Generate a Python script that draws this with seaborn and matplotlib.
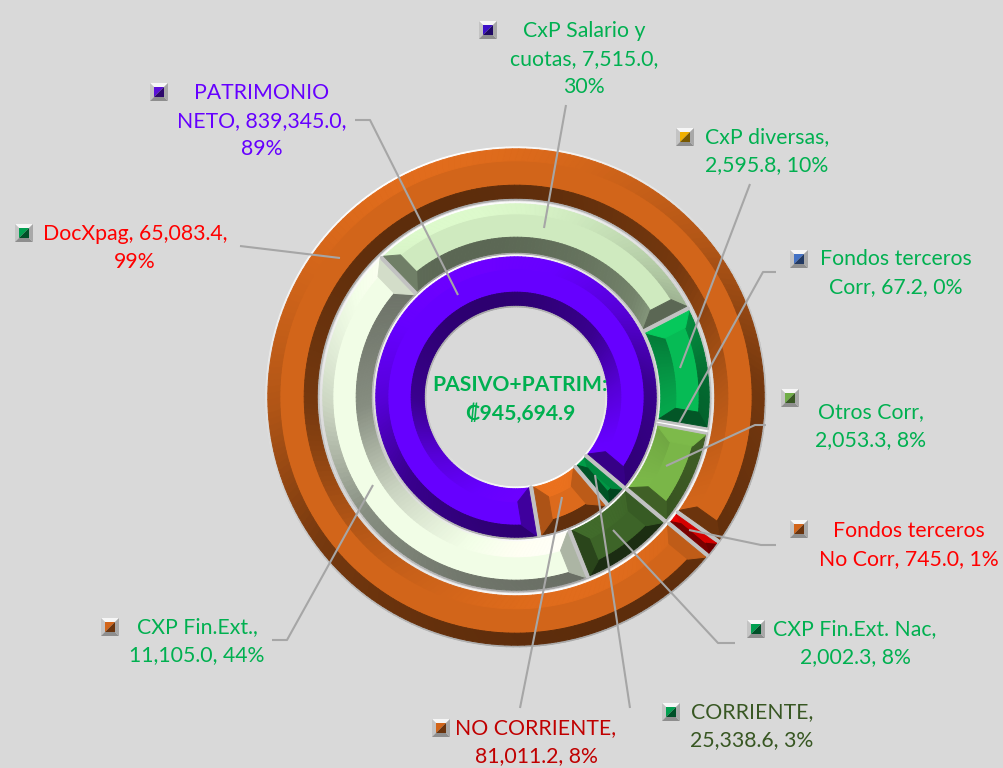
import numpy as np
import matplotlib
matplotlib.use("Agg")
import matplotlib.pyplot as plt
from matplotlib.collections import PolyCollection
import seaborn as sns

# ---------- data ----------
inner_names = ["CORRIENTE", "NO CORRIENTE", "PATRIMONIO NETO"]
inner_values = [25338.6, 81011.2, 839345.0]
inner_colors = ["#009645", "#dc6a1c", "#6600ff"]

middle_names = ["CxP Salario y cuotas", "CxP diversas", "Fondos terceros Corr",
                "Otros Corr", "CXP Fin.Ext. Nac", "CXP Fin.Ext."]
middle_values = [7515.0, 2595.8, 67.2, 2053.3, 2002.3, 11105.0]
middle_colors = ["#cfeabf", "#06bb55", "#ffffff", "#7ab648", "#3d6428", "#f1fde6"]

outer_names = ["Fondos terceros No Corr", "DocXpag"]
outer_values = [745.0, 65083.4]
outer_colors = ["#e60000", "#d2651a"]

center_text = "PASIVO+PATRIM:\n₡945,694.9"
label_texts = ["CxP Salario y\ncuotas, 7,515.0,\n30%",
               "PATRIMONIO\nNETO, 839,345.0,\n89%",
               "CxP diversas,\n2,595.8, 10%",
               "Fondos terceros\nCorr, 67.2, 0%",
               "Otros Corr,\n2,053.3, 8%",
               "DocXpag, 65,083.4,\n99%",
               "Fondos terceros\nNo Corr, 745.0, 1%",
               "CXP Fin.Ext. Nac,\n2,002.3, 8%",
               "CORRIENTE,\n25,338.6, 3%",
               "NO CORRIENTE,\n81,011.2, 8%",
               "CXP Fin.Ext.,\n11,105.0, 44%"]
label_colors = ["#00b050", "#6600ff", "#00b050", "#00b050", "#00b050", "#ff0000",
                "#ff0000", "#00b050", "#385723", "#c00000", "#00b050"]

# ---------- layout (pixels of the reference, y downward) ----------
W, H = 1004, 768
CX, CY = 516, 397
label_pos = [(584, 59), (262, 121), (767, 151), (896, 273), (871, 426), (135, 248),
             (909, 545), (855, 643), (752, 726), (536, 742), (197, 641)]
key_pos = [(488, 30), (159, 92), (685, 137), (799, 259), (790, 398), (24, 233),
           (799, 529), (756, 629), (671, 712), (441, 728), (110, 627)]
key_colors = ["#3c10c8", "#5a10d8", "#f0b000", "#4472c4", "#70ad47", "#00a050",
              "#d2651a", "#00a050", "#00a050", "#d2651a", "#d2651a"]
leaders = [[(566, 105), (544, 228)],
           [(750, 184), (680, 368)],
           [(776, 272), (763, 272), (679, 423)],
           [(766, 425), (755, 425), (666, 466)],
           [(776, 545), (761, 545), (689, 530)],
           [(735, 643), (718, 643), (613, 530)],
           [(630, 708), (595, 475)],
           [(520, 708), (562, 497)],
           [(272, 640), (287, 640), (373, 485)],
           [(240, 246), (340, 258)],
           [(355, 120), (370, 120), (458, 295)]]

rings = [  # values, colours, r0, r1, clockwise start from top, outer band, inner band, end band
    (outer_values, outer_colors, 197, 250, 125.5, 12, 13, 13),
    (middle_values, middle_colors, 143, 195, 316.0, 10, 15, 13),
    (inner_values, inner_colors, 90, 142, 130.0, 12, 13, 13),
]

sns.set_theme(style="white")
plt.rcParams["font.family"] = ["Lato", "DejaVu Sans"]
BG = "#d9d9d9"
fig = plt.figure(figsize=(W / 100, H / 100), dpi=100, facecolor=BG)
ax = fig.add_axes([0, 0, 1, 1], facecolor=BG)


def Y(y):
    return H - y


def pt(a, r):
    t = np.radians(a)
    return (CX + r * np.sin(t), Y(CY) + r * np.cos(t))


def mult(theta):
    """brightness of a bevel facet whose outward normal points to math angle theta"""
    s = np.cos(np.radians(theta - 110))
    return np.interp(s, [-1, -0.3, 0.3, 1], [0.44, 0.56, 0.84, 1.07])


def shade(col, theta):
    c = np.array(matplotlib.colors.to_rgb(col))
    return tuple(np.clip(c * mult(theta), 0, 1))


def rim(theta):
    s = np.cos(np.radians(theta - 115))
    g = np.interp(s, [-1, 0, 1], [0.66, 0.80, 1.0])
    return (g, g, g)


polys, cols = [], []


def add(p, c):
    polys.append(p)
    cols.append(c)


def band(a0, a1, ro, ri, do, di, colfun, outer):
    """curved band between radius ro (angles a0+do..a1-do) and ri (a0+di..a1-di)"""
    n = max(2, int((a1 - a0) / 1.5))
    fr = np.linspace(0, 1, n + 1)
    for f0, f1 in zip(fr[:-1], fr[1:]):
        ao0, ao1 = a0 + do + (a1 - a0 - 2 * do) * f0, a0 + do + (a1 - a0 - 2 * do) * f1
        ai0, ai1 = a0 + di + (a1 - a0 - 2 * di) * f0, a0 + di + (a1 - a0 - 2 * di) * f1
        mid = (ao0 + ao1) / 2
        phi = 90 - mid
        add([pt(ao0, ro), pt(ao1, ro), pt(ai1, ri), pt(ai0, ri)],
            colfun(phi if outer else phi + 180))


def slice_bevel(a0, a1, r0, r1, col, bo, bi, be):
    span = a1 - a0
    rw = 1.8  # width of the bright rim
    ew = 2.6  # width of the rim on the radial ends
    rmid = (r0 + r1) / 2
    if span * np.pi / 180 * rmid < 8:
        return
    ang = lambda px, r: np.degrees(px / r)
    R1, R0 = r1 - rw, r0 + rw
    band(a0, a1, r1, R1, 0, ang(ew, R1), rim, True)
    band(a0, a1, r0, R0, 0, ang(ew, R0), rim, False)
    for a, sg in ((a0, 1), (a1, -1)):
        add([pt(a, r0), pt(a, r1), pt(a + sg * ang(ew, R1), R1), pt(a + sg * ang(ew, R0), R0)],
            (0.76, 0.76, 0.76))
    sc = min(1.0, span * np.pi / 180 * rmid / 42)
    be_ = be * sc
    bo_, bi_ = bo * max(sc, 0.7), bi * max(sc, 0.7)
    d1 = ang(ew, R1)
    d0 = ang(ew, R0)
    Ro, Ri = R1 - bo_, R0 + bi_
    do = ang(ew + be_, Ro)
    di = ang(ew + be_, Ri)
    fun = lambda th: shade(col, th)
    band(a0, a1, R1, Ro, d1, do, fun, True)
    band(a0, a1, R0, Ri, d0, di, fun, False)
    for a, sg in ((a0, 1), (a1, -1)):
        phi = 90 - a
        th = phi + 90 if sg > 0 else phi - 90
        add([pt(a + sg * d0, R0), pt(a + sg * d1, R1), pt(a + sg * do, Ro), pt(a + sg * di, Ri)], fun(th))


for vals, colors, r0, r1, start, bo, bi, be in rings:
    pal = sns.color_palette(colors)
    ax.pie(vals, colors=pal, radius=r1, center=(CX, Y(CY)), startangle=90 - start,
           counterclock=False, frame=True,
           wedgeprops=dict(width=r1 - r0, edgecolor="#e6e6e6", linewidth=1.0))
    ang = start
    total = sum(vals)
    for v, c in zip(vals, colors):
        sp = 360 * v / total
        slice_bevel(ang, ang + sp, r0, r1, c, bo, bi, be)
        ang += sp

ax.add_collection(PolyCollection(polys, facecolors=cols, edgecolors=cols, linewidths=0.7, zorder=3))

# leader lines
for seg in leaders:
    ax.plot([p[0] for p in seg], [Y(p[1]) for p in seg], color="#a6a6a6", lw=1.5, zorder=5,
            solid_capstyle="butt")

# legend keys
for (kx, ky), kc in zip(key_pos, key_colors):
    y = Y(ky)
    o, i = 9, 5
    c = np.array(matplotlib.colors.to_rgb(kc))
    faces = [([(-o, o), (o, o), (i, i), (-i, i)], "#f6f6f6"),
             ([(-o, o), (-o, -o), (-i, -i), (-i, i)], "#c4c4c4"),
             ([(-o, -o), (o, -o), (i, -i), (-i, -i)], "#8e8e8e"),
             ([(o, -o), (o, o), (i, i), (i, -i)], "#a8a8a8"),
             ([(-i, i), (i, i), (-i, -i)], tuple(c)),
             ([(i, i), (i, -i), (-i, -i)], tuple(c * 0.5))]
    for pts, fc in faces:
        ax.fill([kx + p[0] for p in pts], [y + p[1] for p in pts], color=fc, lw=0, zorder=6)

FS = 15.3
LS = 1.52
for t, (x, y), c in zip(label_texts, label_pos, label_colors):
    ax.text(x, Y(y), t, color=c, ha="center", va="center", fontsize=FS, linespacing=LS, zorder=7)
ax.text(520, Y(399.5), center_text, color="#00b050", ha="center", va="center",
        fontsize=15.2, fontweight="bold", linespacing=LS, zorder=7)

ax.set_xlim(0, W)
ax.set_ylim(0, H)
ax.set_aspect("equal")
ax.set_xticks([])
ax.set_yticks([])
for s in ax.spines.values():
    s.set_visible(False)
fig.savefig("out.png", dpi=100, facecolor=BG)
